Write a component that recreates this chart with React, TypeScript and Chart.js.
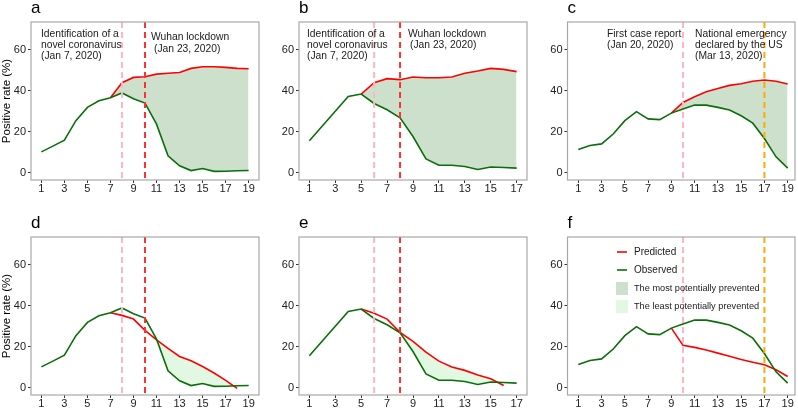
import React, { useEffect, useRef } from "react";
import { Chart, registerables } from "chart.js";
Chart.register(...registerables);

const FONT = '"Liberation Sans", Arial, Helvetica, sans-serif';

// ---------- data ----------
const weeks19 = [1, 2, 3, 4, 5, 6, 7, 8, 9, 10, 11, 12, 13, 14, 15, 16, 17, 18, 19];
const weeks17 = [1, 2, 3, 4, 5, 6, 7, 8, 9, 10, 11, 12, 13, 14, 15, 16, 17];
const xTicks19 = [1, 3, 5, 7, 9, 11, 13, 15, 17, 19];
const xTicks17 = [1, 3, 5, 7, 9, 11, 13, 15, 17];
const yTicks = [0, 20, 40, 60];

// Wuhan (panels a, d)
const obsWuhan = [10.2, 13.0, 15.9, 25.4, 31.9, 35.1, 36.6, 38.9, 36.1, 34.0, 23.7, 8.3, 3.4, 1.1, 2.1, 0.7, 0.8, 1.0, 1.1];
const predMostWuhan = [null, null, null, null, null, null, 36.6, 43.9, 46.5, 46.8, 48.1, 48.5, 48.9, 50.9, 51.7, 51.7, 51.4, 50.9, 50.7];
const predLeastWuhan = [null, null, null, null, null, null, 36.6, 35.3, 33.5, 28.0, 23.4, 19.2, 15.3, 13.2, 10.4, 7.2, 3.6, -0.3, null];

// panels b, e
const obsB = [15.6, 22.8, 30.0, 37.2, 38.4, 33.8, 30.7, 26.8, 17.7, 6.8, 3.7, 3.7, 3.1, 1.6, 2.8, 2.6, 2.3];
const predMostB = [null, null, null, null, 38.4, 43.9, 45.9, 45.4, 46.7, 46.3, 46.3, 46.7, 48.5, 49.6, 50.9, 50.4, 49.3];
const predLeastB = [null, null, null, null, 38.4, 36.3, 33.5, 27.0, 22.6, 17.4, 13.0, 10.1, 8.5, 6.2, 4.4, 1.1, null];

// US (panels c, f)
const obsUS = [11.4, 13.3, 14.1, 18.9, 25.4, 29.8, 26.3, 25.9, 29.1, 31.1, 33.0, 33.0, 31.9, 30.6, 27.8, 24.2, 16.7, 7.8, 2.3];
const predMostUS = [null, null, null, null, null, null, null, null, 29.1, 34.3, 37.1, 39.5, 41.1, 42.6, 43.4, 44.6, 45.2, 44.6, 43.3];
const predLeastUS = [null, null, null, null, null, null, null, null, 29.1, 20.7, 19.7, 18.4, 16.9, 15.4, 13.8, 12.5, 11.2, 8.8, 5.5];

const legendLabels = ["Predicted", "Observed", "The most potentially prevented", "The least potentially prevented"];
const yTitle = "Positive rate (%)";

// ---------- styles ----------
const RED = "#ff0000";
const GREEN = "#0a6e0a";
const MOST = "#cce0cc";
const LEAST = "#e3f8e3";
const PINK = "#ffb6c1";
const RED_DASH = "#ff3030";
const ORANGE = "#ffaa00";

type Note = { text: string; x: number; y: number };
type Panel = {
  letter: string;
  cx: number; cy: number; w: number; h: number;
  box: { l: number; r: number; t: number; b: number };
  xMin: number; xMax: number;
  days: number[]; xTicks: number[];
  obs: (number | null)[]; pred: (number | null)[];
  fillFrom: number | null; fillColor: string;
  events: { x: number; color: string }[];
  notes: Note[];
  showTitle: boolean; legend: boolean;
};

const panels: Panel[] = [
  {
    letter: "a", cx: 0, cy: 0, w: 265, h: 200, box: { l: 31, r: 259, t: 22, b: 180 },
    xMin: 0.1, xMax: 19.9, days: weeks19, xTicks: xTicks19, obs: obsWuhan, pred: predMostWuhan,
    fillFrom: 7, fillColor: MOST, events: [{ x: 8, color: PINK }, { x: 10, color: RED_DASH }],
    notes: [
      { text: "Identification of a", x: 41, y: 34 },
      { text: "novel coronavirus", x: 41, y: 45 },
      { text: "(Jan 7, 2020)", x: 41, y: 56 },
      { text: "Wuhan lockdown", x: 151, y: 37 },
      { text: "(Jan 23, 2020)", x: 154, y: 49 },
    ],
    showTitle: true, legend: false,
  },
  {
    letter: "b", cx: 265, cy: 0, w: 265, h: 200, box: { l: 34, r: 262, t: 22, b: 180 },
    xMin: 0.2, xMax: 17.8, days: weeks17, xTicks: xTicks17, obs: obsB, pred: predMostB,
    fillFrom: 5, fillColor: MOST, events: [{ x: 6, color: PINK }, { x: 8, color: RED_DASH }],
    notes: [
      { text: "Identification of a", x: 42, y: 34 },
      { text: "novel coronavirus", x: 42, y: 45 },
      { text: "(Jan 7, 2020)", x: 42, y: 56 },
      { text: "Wuhan lockdown", x: 143, y: 34 },
      { text: "(Jan 23, 2020)", x: 145, y: 45 },
    ],
    showTitle: false, legend: false,
  },
  {
    letter: "c", cx: 530, cy: 0, w: 268, h: 200, box: { l: 37.5, r: 265, t: 22, b: 180 },
    xMin: 0.07, xMax: 19.63, days: weeks19, xTicks: xTicks19, obs: obsUS, pred: predMostUS,
    fillFrom: 9, fillColor: MOST, events: [{ x: 10, color: PINK }, { x: 17, color: ORANGE }],
    notes: [
      { text: "First case report", x: 77, y: 34 },
      { text: "(Jan 20, 2020)", x: 77, y: 45 },
      { text: "National emergency", x: 165, y: 34 },
      { text: "declared by the US", x: 165, y: 45 },
      { text: "(Mar 13, 2020)", x: 165, y: 56 },
    ],
    showTitle: false, legend: false,
  },
  {
    letter: "d", cx: 0, cy: 200, w: 265, h: 208, box: { l: 31, r: 259, t: 37, b: 195 },
    xMin: 0.1, xMax: 19.9, days: weeks19, xTicks: xTicks19, obs: obsWuhan, pred: predLeastWuhan,
    fillFrom: 7, fillColor: LEAST, events: [{ x: 8, color: PINK }, { x: 10, color: RED_DASH }],
    notes: [], showTitle: true, legend: false,
  },
  {
    letter: "e", cx: 265, cy: 200, w: 265, h: 208, box: { l: 34, r: 262, t: 37, b: 195 },
    xMin: 0.2, xMax: 17.8, days: weeks17, xTicks: xTicks17, obs: obsB, pred: predLeastB,
    fillFrom: 8, fillColor: LEAST, events: [{ x: 6, color: PINK }, { x: 8, color: RED_DASH }],
    notes: [], showTitle: false, legend: false,
  },
  {
    letter: "f", cx: 530, cy: 200, w: 268, h: 208, box: { l: 37.5, r: 265, t: 37, b: 195 },
    xMin: 0.07, xMax: 19.63, days: weeks19, xTicks: xTicks19, obs: obsUS, pred: predLeastUS,
    fillFrom: null, fillColor: LEAST, events: [{ x: 10, color: PINK }, { x: 17, color: ORANGE }],
    notes: [], showTitle: false, legend: true,
  },
];

function toPoints(days: number[], vals: (number | null)[], from?: number) {
  const pts: { x: number; y: number }[] = [];
  days.forEach((d, i) => {
    const v = vals[i];
    if (v === null || v === undefined) return;
    if (from !== undefined && d < from) return;
    pts.push({ x: d, y: v });
  });
  return pts;
}

function PanelChart({ p }: { p: Panel }) {
  const ref = useRef<HTMLCanvasElement | null>(null);
  useEffect(() => {
    if (!ref.current) return;
    const datasets: any[] = [
      {
        label: "Observed",
        data: toPoints(p.days, p.obs),
        borderColor: GREEN,
        borderWidth: 1.6,
        pointRadius: 0,
        fill: false,
        tension: 0,
      },
      {
        label: "Predicted",
        data: toPoints(p.days, p.pred),
        borderColor: RED,
        borderWidth: 1.6,
        pointRadius: 0,
        fill: false,
        tension: 0,
      },
    ];
    if (p.fillFrom !== null) {
      datasets.push({
        label: "fill",
        data: toPoints(p.days, p.pred, p.fillFrom),
        borderColor: "rgba(0,0,0,0)",
        borderWidth: 0,
        pointRadius: 0,
        fill: { target: 0, above: p.fillColor, below: "rgba(0,0,0,0)" },
        tension: 0,
      });
    }

    const deco = {
      id: "deco",
      afterDatasetsDraw(chart: any) {
        const { ctx, chartArea, scales } = chart;
        ctx.save();
        ctx.lineWidth = 2;
        ctx.setLineDash([6, 4]);
        p.events.forEach((ev) => {
          const x = scales.x.getPixelForValue(ev.x);
          ctx.strokeStyle = ev.color;
          ctx.beginPath();
          ctx.moveTo(x, chartArea.top);
          ctx.lineTo(x, chartArea.bottom);
          ctx.stroke();
        });
        ctx.restore();
      },
      afterDraw(chart: any) {
        const { ctx, chartArea } = chart;
        ctx.save();
        ctx.strokeStyle = "#a8a8a8";
        ctx.lineWidth = 1.2;
        ctx.strokeRect(chartArea.left, chartArea.top, chartArea.right - chartArea.left, chartArea.bottom - chartArea.top);
        // panel letter
        ctx.fillStyle = "#000";
        ctx.font = `17px ${FONT}`;
        ctx.textBaseline = "alphabetic";
        ctx.textAlign = "left";
        ctx.fillText(p.letter, chartArea.left, chartArea.top - 9);
        // notes
        ctx.font = `10.3px ${FONT}`;
        ctx.fillStyle = "#1a1a1a";
        ctx.textBaseline = "middle";
        p.notes.forEach((n) => ctx.fillText(n.text, n.x, n.y));
        if (p.legend) {
          ctx.font = `10px ${FONT}`;
          ctx.fillStyle = "#1a1a1a";
          ctx.lineWidth = 1.6;
          ctx.strokeStyle = RED;
          ctx.beginPath(); ctx.moveTo(87, 52); ctx.lineTo(97, 52); ctx.stroke();
          ctx.fillText(legendLabels[0], 104, 52);
          ctx.strokeStyle = GREEN;
          ctx.beginPath(); ctx.moveTo(87, 70); ctx.lineTo(97, 70); ctx.stroke();
          ctx.fillText(legendLabels[1], 104, 70);
          ctx.fillStyle = MOST;
          ctx.fillRect(86, 82, 12, 13);
          ctx.fillStyle = LEAST;
          ctx.fillRect(86, 100, 12, 13);
          ctx.fillStyle = "#1a1a1a";
          ctx.font = `9.2px ${FONT}`;
          ctx.fillText(legendLabels[2], 104, 88.5);
          ctx.fillText(legendLabels[3], 104, 106.5);
        }
        ctx.restore();
      },
    };

    const chart = new Chart(ref.current, {
      type: "line",
      data: { datasets },
      options: {
        animation: false,
        responsive: false,
        devicePixelRatio: 1,
        layout: { padding: { left: 0, top: p.box.t, right: p.w - p.box.r, bottom: 0 } },
        plugins: { legend: { display: false }, tooltip: { enabled: false }, filler: { propagate: false } },
        scales: {
          x: {
            type: "linear",
            min: p.xMin,
            max: p.xMax,
            afterBuildTicks: (s: any) => { s.ticks = p.xTicks.map((v) => ({ value: v })); },
            afterFit: (s: any) => { s.height = p.h - p.box.b; },
            ticks: {
              font: { size: 11, family: FONT, lineHeight: 1.1 },
              color: "#222",
              padding: 0,
              maxRotation: 0,
              autoSkip: false,
              callback: (v: any) => String(v),
            },
            grid: { drawOnChartArea: false, drawTicks: true, tickLength: 3, color: "#333", lineWidth: 1 },
            border: { display: false },
          },
          y: {
            type: "linear",
            min: -3.5,
            max: 73.5,
            afterBuildTicks: (s: any) => { s.ticks = yTicks.map((v) => ({ value: v })); },
            afterFit: (s: any) => { s.width = p.box.l; },
            ticks: { font: { size: 11, family: FONT }, color: "#222", padding: 2, callback: (v: any) => String(v) },
            grid: { drawOnChartArea: false, drawTicks: true, tickLength: 3, color: "#333", lineWidth: 1 },
            border: { display: false },
            title: {
              display: p.showTitle,
              text: yTitle,
              font: { size: 11.5, family: FONT },
              color: "#000",
              padding: 0,
            },
          },
        },
      } as any,
      plugins: [deco],
    });
    return () => chart.destroy();
  }, [p]);
  return (
    <canvas
      ref={ref}
      width={p.w}
      height={p.h}
      style={{ position: "absolute", left: p.cx, top: p.cy, width: p.w, height: p.h }}
    />
  );
}

export default function App() {
  return (
    <div style={{ position: "absolute", left: 0, top: 0, width: 798, height: 408, background: "#fff", overflow: "hidden" }}>
      {panels.map((p) => (
        <PanelChart key={p.letter} p={p} />
      ))}
    </div>
  );
}
